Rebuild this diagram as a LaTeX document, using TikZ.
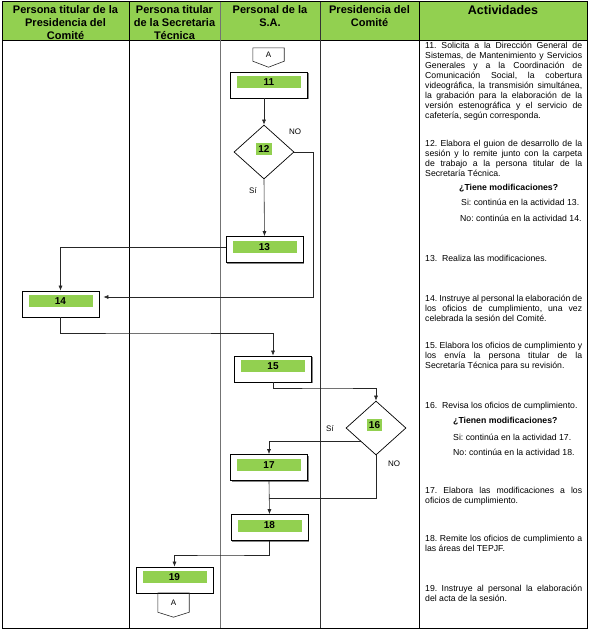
\documentclass[tikz,border=0pt]{standalone}
\usepackage{fontspec}
\setmainfont{Liberation Sans}
\usetikzlibrary{shapes.geometric,arrows.meta,calc,shadows}
\definecolor{hdr}{RGB}{146,208,80}
\definecolor{barg}{RGB}{146,208,80}
\newcommand{\jl}[1]{\makebox[157pt][s]{#1}\\}
\frenchspacing
\begin{document}
\frenchspacing
\begin{tikzpicture}[x=1pt,y=-1pt,
 grid/.style={line width=0.8pt},
 actbox/.style={draw, line width=0.7pt, fill=white, minimum width=77pt, minimum height=26pt, inner sep=0pt,
   drop shadow={shadow xshift=1.2pt, shadow yshift=-1.2pt, fill=black!60, opacity=0.8}},
 numbar/.style={fill=barg, minimum width=64pt, minimum height=12pt, inner sep=0pt, font=\fontsize{10}{11}\selectfont\bfseries},
 decision/.style={diamond, draw, line width=0.7pt, fill=white, minimum width=60pt, minimum height=54pt, inner sep=0pt},
 smallbar/.style={fill=barg, minimum width=16pt, minimum height=12pt, inner sep=0pt, font=\fontsize{10}{11}\selectfont\bfseries},
 arr/.style={line width=0.6pt, draw=black!85, -{Latex[length=5pt,width=4pt]}},
 conn/.style={line width=0.6pt, draw=black!85},
 lbl/.style={font=\fontsize{8}{9}\selectfont, inner sep=0pt},
 offpage/.style={inner sep=0pt, minimum width=31pt, font=\fontsize{8}{9}\selectfont},
 hd/.style={anchor=base, inner sep=0pt, font=\fontsize{11}{13}\selectfont\bfseries},
 act/.style={anchor=base west, inner sep=0pt, font=\fontsize{8.7}{10}\selectfont\frenchspacing},
 actq/.style={act, font=\fontsize{8.7}{10}\selectfont\bfseries},
]
\useasboundingbox (0,0) rectangle (590,633);
% header
\fill[hdr] (2,1.5) rectangle (587,40);
\draw[grid] (2,1.5) rectangle (587,628);
\draw[grid] (2,40) -- (587,40);
\draw[grid] (129,1.5) -- (129,628);
\draw[grid,black!55] (220,1.5) -- (220,628);
\draw[grid,black!80] (320,1.5) -- (320,628);
\draw[grid] (419,1.5) -- (419,628);

\node[hd] (h1) at (65.5,13) {\parbox[t]{124pt}{\centering Persona titular de la\\Presidencia del\\Comité}};
\node[hd] (h2) at (174.5,13) {\parbox[t]{88pt}{\centering Persona titular\\de la Secretaria\\Técnica}};
\node[hd] (h3) at (270,13) {\parbox[t]{96pt}{\centering Personal de la\\S.A.}};
\node[hd] (h4) at (369.5,13) {\parbox[t]{96pt}{\centering Presidencia del\\Comité}};
\node[hd, font=\fontsize{12.5}{14}\selectfont\bfseries] (h5) at (503,14.5) {Actividades};

% flow nodes
\node[offpage, minimum height=13pt] (ca) at (268.5,54.5) {A};
\draw[conn] (ca.north west) -- (ca.north east) -- (ca.south east) -- ($(ca.south)+(0,6)$) -- (ca.south west) -- cycle;

\node[actbox] (n11) at (269,85) {};
\node[numbar] (b11) at ($(n11.center)+(0,-3)$) {11};

\node[decision] (d12) at (264,152) {};
\node[smallbar] (b12) at ($(d12.center)+(0,-3)$) {12};

\node[actbox] (n13) at (264.5,249.5) {};
\node[numbar] (b13) at ($(n13.center)+(0,-2.5)$) {13};

\node[actbox] (n14) at (60.5,304) {};
\node[numbar] (b14) at ($(n14.center)+(0,-3)$) {14};

\node[actbox] (n15) at (273,369) {};
\node[numbar] (b15) at ($(n15.center)+(0,-3)$) {15};

\node[decision] (d16) at (376,428) {};
\node[smallbar, minimum width=15pt] (b16) at ($(d16.center)+(-1.5,-3)$) {16};

\node[actbox] (n17) at (269,467.5) {};
\node[numbar] (b17) at ($(n17.center)+(0,-2.5)$) {17};

\node[actbox] (n18) at (269.5,527.5) {};
\node[numbar] (b18) at ($(n18.center)+(0,-2)$) {18};

\node[actbox] (n19) at (174.5,580) {};
\node[numbar] (b19) at ($(n19.center)+(0,-3)$) {19};

\node[offpage, minimum height=19pt] (cb) at (173.5,602.5) {A};
\draw[conn] (cb.north west) -- (cb.north east) -- (cb.south east) -- ($(cb.south)+(0,5)$) -- (cb.south west) -- cycle;

% connectors
\coordinate (k1) at (313,297);
\coordinate (k2) at (150,333);
\coordinate (k3) at (330,388);
\coordinate (k4) at (330,498);
\coordinate (k5) at (220,555);

\draw[arr] (n11.south -| d12.north) -- (d12.north);
\draw[arr, shorten >=4pt] (d12.east) -| (k1) -- (k1 -| n14.east);
\draw[arr] (d12.south) -- (n13.north);
\draw[arr] (b13 -| n13.west) -| (n14.north);
\draw[arr] (n14.south) |- (k2) -| (n15.north);
\draw[arr] (n15.south) |- (k3) -| (d16.north);
\draw[arr] (d16.south west) -| (n17.north);
\draw[arr] (n17.south) -- (n18.north);
\draw[conn] (d16.south) |- (k4 -| n17.south);
\draw[arr] (n18.south) |- (k5) -| (n19.north);

\node[lbl] (no12) at (295,132) {NO};
\node[lbl] (si12) at (253,191) {Sí};
\node[lbl] (si16) at (330,429) {Sí};
\node[lbl] (no16) at (394,464) {NO};

% activities
\node[act] (t11) at (425,48.2) {\parbox[t]{157pt}{\frenchspacing\jl{11. Solicita a la Dirección General de}\jl{Sistemas, de Mantenimiento y Servicios}\jl{Generales y a la Coordinación de}\jl{Comunicación Social, la cobertura}\jl{videográfica, la transmisión simultánea,}\jl{la grabación para la elaboración de la}\jl{versión estenográfica y el servicio de}cafetería, según corresponda.}};
\node[act] (t12) at (425,146.2) {\parbox[t]{157pt}{\frenchspacing\jl{12. Elabora el guion de desarrollo de la}\jl{sesión y lo remite junto con la carpeta}\jl{de trabajo a la persona titular de la}Secretaría Técnica.}};
\node[actq] (q12) at (459,190.2) {¿Tiene modificaciones?};
\node[act] (s12) at (461,205.2) {Si: continúa en la actividad 13.};
\node[act] (o12) at (460,221.2) {No: continúa en la actividad 14.};
\node[act] (t13) at (425,261.2) {13.\ \ Realiza las modificaciones.};
\node[act] (t14) at (425,301.2) {\parbox[t]{157pt}{\frenchspacing\jl{14. Instruye al personal la elaboración de}\jl{los oficios de cumplimiento, una vez}celebrada la sesión del Comité.}};
\node[act] (t15) at (425,348.2) {\parbox[t]{157pt}{\frenchspacing\jl{15. Elabora los oficios de cumplimiento y}\jl{los envía la persona titular de la}Secretaría Técnica para su revisión.}};
\node[act] (t16) at (425,408.2) {16.\ \ Revisa los oficios de cumplimiento.};
\node[actq] (q16) at (453,423.2) {¿Tienen modificaciones?};
\node[act] (s16) at (453,440.2) {Si: continúa en la actividad 17.};
\node[act] (o16) at (453,455.2) {No: continúa en la actividad 18.};
\node[act] (t17) at (425,493.2) {\parbox[t]{157pt}{\frenchspacing\jl{17. Elabora las modificaciones a los}oficios de cumplimiento.}};
\node[act] (t18) at (425,541.2) {\parbox[t]{157pt}{\frenchspacing\jl{18. Remite los oficios de cumplimiento a}las áreas del TEPJF.}};
\node[act] (t19) at (425,591.2) {\parbox[t]{157pt}{\frenchspacing\jl{19. Instruye al personal la elaboración}del acta de la sesión.}};
\end{tikzpicture}
\end{document}
